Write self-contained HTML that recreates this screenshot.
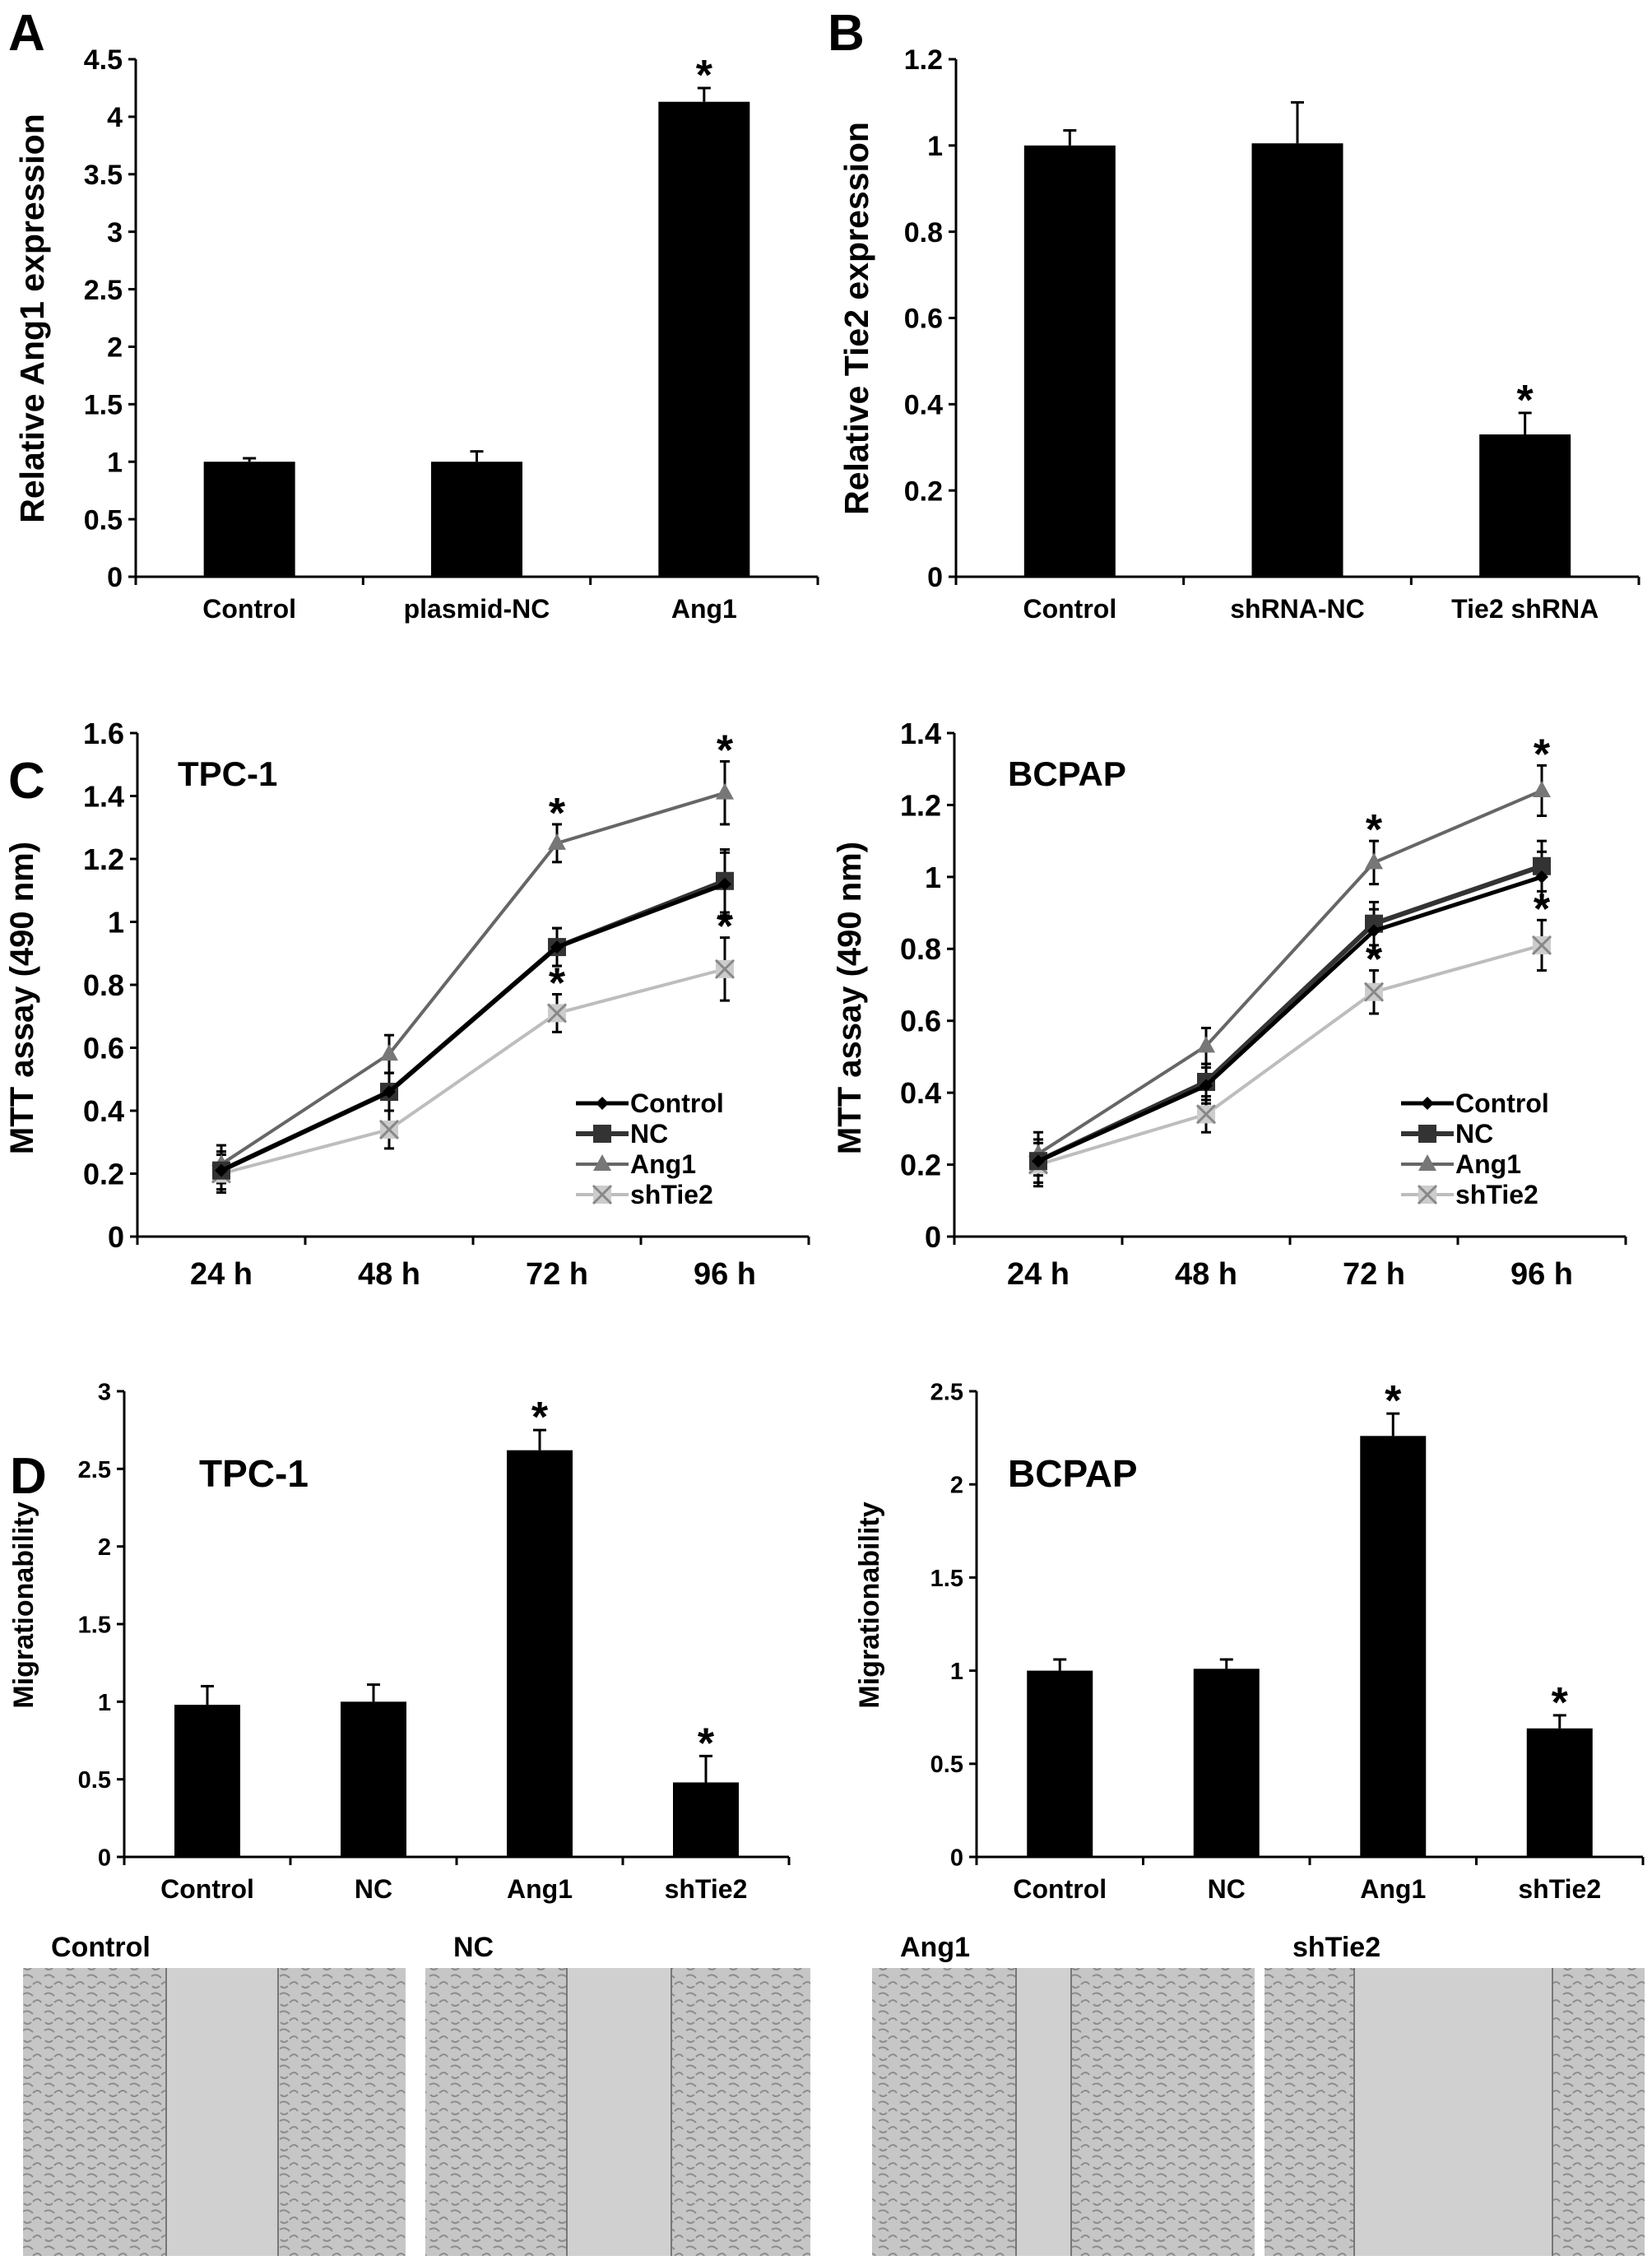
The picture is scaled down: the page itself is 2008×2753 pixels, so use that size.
<!DOCTYPE html>
<html><head><meta charset="utf-8">
<style>
html,body{margin:0;padding:0;background:#fff;}
svg{display:block;}
text{font-family:"Liberation Sans",Arial,sans-serif;font-weight:bold;fill:#000;}
.nar{font-family:"Liberation Sans Narrow","Liberation Sans",sans-serif;}
</style></head>
<body>
<svg id="fig" width="2008" height="2753" viewBox="0 0 2008 2753" xmlns="http://www.w3.org/2000/svg">
<defs>
<pattern id="cells" width="26" height="22" patternUnits="userSpaceOnUse">
<rect width="26" height="22" fill="#c6c6c6"/>
<path d="M2 4 q6 -4 12 2 M14 14 q6 -6 10 0 M3 16 q4 4 9 0" stroke="#8c8c8c" stroke-width="2" fill="none"/>
</pattern>
</defs>
<g id="root"></g>
</svg>
<script>
// Panel A
const aCats=["Control","plasmid-NC","Ang1"];
const aVals=[1.0,1.0,4.13];
const aErr=[0.03,0.09,0.12];
const aTicks=[0,0.5,1,1.5,2,2.5,3,3.5,4,4.5];
// Panel B
const bCats=["Control","shRNA-NC","Tie2 shRNA"];
const bVals=[1.0,1.005,0.33];
const bErr=[0.035,0.095,0.05];
const bTicks=[0,0.2,0.4,0.6,0.8,1,1.2];
// Panel C
const cTimes=["24 h","48 h","72 h","96 h"];
const cSeries=["Control","NC","Ang1","shTie2"];
const cTpcControl=[0.21,0.46,0.92,1.12];
const cTpcNC=[0.21,0.46,0.92,1.13];
const cTpcAng1=[0.23,0.58,1.25,1.41];
const cTpcShTie2=[0.20,0.34,0.71,0.85];
const cTpcErr=[0.06,0.06,0.06,0.10];
const cBcControl=[0.21,0.42,0.85,1.0];
const cBcNC=[0.21,0.43,0.87,1.03];
const cBcAng1=[0.23,0.53,1.04,1.24];
const cBcShTie2=[0.20,0.34,0.68,0.81];
const cBcErr=[0.06,0.05,0.06,0.07];
const cTpcTicks=[0,0.2,0.4,0.6,0.8,1,1.2,1.4,1.6];
const cBcTicks=[0,0.2,0.4,0.6,0.8,1,1.2,1.4];
// Panel D
const dCats=["Control","NC","Ang1","shTie2"];
const dTpcVals=[0.98,1.0,2.62,0.48];
const dTpcErr=[0.12,0.11,0.13,0.17];
const dBcVals=[1.0,1.01,2.26,0.69];
const dBcErr=[0.06,0.05,0.12,0.07];
const dTpcTicks=[0,0.5,1,1.5,2,2.5,3];
const dBcTicks=[0,0.5,1,1.5,2,2.5];

const NS="http://www.w3.org/2000/svg";
const root=document.getElementById('root');
function el(tag,attrs,parent,txt){const e=document.createElementNS(NS,tag);for(const k in attrs)e.setAttribute(k,attrs[k]);if(txt!==undefined)e.textContent=txt;(parent||root).appendChild(e);return e;}

function axes(g,o,ticks,cats,nm){
  const max=ticks[ticks.length-1];
  const y=v=>o.y0-(v/max)*(o.y0-o.yTop);
  const ax=el('line',{x1:o.x0,y1:o.yTop,x2:o.x0,y2:o.y0,stroke:'#000','stroke-width':3},g);
  
  
  const xa=el('line',{x1:o.x0,y1:o.y0,x2:o.x1,y2:o.y0,stroke:'#000','stroke-width':3},g);
  
  
  const tfs=o.tfs||34;
  ticks.forEach(t=>{
    el('line',{x1:o.x0-9,y1:y(t),x2:o.x0,y2:y(t),stroke:'#000','stroke-width':3},g);
    const tl=el('text',{x:o.x0-16,y:y(t)+tfs*0.36,'text-anchor':'end','font-size':tfs,class:'nar'},g,String(t));
    
    
  });
  const cw=(o.x1-o.x0)/cats.length;
  for(let i=0;i<=cats.length;i++){el('line',{x1:o.x0+i*cw,y1:o.y0,x2:o.x0+i*cw,y2:o.y0+10,stroke:'#000','stroke-width':3},g);}
  cats.forEach((c,i)=>{
    const cl=el('text',{x:o.x0+(i+.5)*cw,y:o.y0+o.lblDy,'text-anchor':'middle','font-size':o.cfs||32,class:'nar'},g,c);
    
    
  });
  return {y,cw};
}

function barChart(o,cats,vals,errs,ticks,stars,nm){
  const g=el('g',{},root);
  
  
  const {y,cw}=axes(g,o,ticks,cats,nm);
  vals.forEach((v,i)=>{
    const cx=o.x0+(i+.5)*cw;
    const b=el('rect',{x:cx-o.bw/2,y:y(v),width:o.bw,height:o.y0-y(v),fill:'#000'},g);
    
    
    const top=y(v+errs[i]);
    el('line',{x1:cx,y1:y(v),x2:cx,y2:top,stroke:'#000','stroke-width':3},g);
    el('line',{x1:cx-8,y1:top,x2:cx+8,y2:top,stroke:'#000','stroke-width':3},g);
    if(stars[i]){const s=el('text',{x:cx,y:top+2,'text-anchor':'middle','font-size':52},g,'*');
      
      }
  });
  const t=el('text',{transform:`translate(${o.tx},${o.ty}) rotate(-90)`,'text-anchor':'middle','font-size':o.tfz||40},g,o.title);
  
  
  return g;
}

const sStyle={Control:{c:'#000',w:5},NC:{c:'#333',w:6},Ang1:{c:'#666',w:4},shTie2:{c:'#bdbdbd',w:4}};
function marker(g,s,x,y){
  if(s==='Control') el('path',{d:`M${x} ${y-8}L${x+8} ${y}L${x} ${y+8}L${x-8} ${y}Z`,fill:'#000'},g);
  else if(s==='NC') el('rect',{x:x-11,y:y-11,width:22,height:22,fill:'#333'},g);
  else if(s==='Ang1') el('path',{d:`M${x} ${y-12}L${x+11} ${y+8}L${x-11} ${y+8}Z`,fill:'#777'},g);
  else {el('rect',{x:x-11,y:y-11,width:22,height:22,fill:'#ccc'},g);el('path',{d:`M${x-11} ${y-11}L${x+11} ${y+11}M${x+11} ${y-11}L${x-11} ${y+11}`,stroke:'#888','stroke-width':3},g);}
}
function lineChart(o,series,data,err,ticks,label,stars,nm){
  const g=el('g',{},root);
  
  
  const {y,cw}=axes(g,o,ticks,cTimes,nm);
  const X=i=>o.x0+(i+.5)*cw;
  data.forEach(arr=>arr.forEach((v,i)=>{
    el('line',{x1:X(i),y1:y(v-err[i]),x2:X(i),y2:y(v+err[i]),stroke:'#000','stroke-width':3},g);
    el('line',{x1:X(i)-6,y1:y(v+err[i]),x2:X(i)+6,y2:y(v+err[i]),stroke:'#000','stroke-width':3},g);
    el('line',{x1:X(i)-6,y1:y(v-err[i]),x2:X(i)+6,y2:y(v-err[i]),stroke:'#000','stroke-width':3},g);
  }));
  [3,2,1,0].forEach(k=>{
    const s=series[k],st=sStyle[s],arr=data[k];
    const p=el('polyline',{points:arr.map((v,i)=>X(i)+','+y(v)).join(' '),fill:'none',stroke:st.c,'stroke-width':st.w},g);
    
    
    arr.forEach((v,i)=>marker(g,s,X(i),y(v)));
  });
  stars.forEach(([k,i])=>{
    const v=data[k][i];
    const s=el('text',{x:X(i),y:y(v+err[i])+4,'text-anchor':'middle','font-size':52},g,'*');
    
    
  });
  series.forEach((s,k)=>{
    const ly=o.legY+k*37, st=sStyle[s];
    const lg=el('g',{},g);
    
    
    el('line',{x1:o.legX,y1:ly,x2:o.legX+64,y2:ly,stroke:st.c,'stroke-width':st.w},lg);
    marker(lg,s,o.legX+32,ly);
    el('text',{x:o.legX+66,y:ly+11,'font-size':32,class:'nar'},lg,s);
  });
  const t=el('text',{x:o.labX,y:o.labY,'font-size':42},g,label);
  
  
  const tt=el('text',{transform:`translate(${o.tx},${o.ty}) rotate(-90)`,'text-anchor':'middle','font-size':40},g,'MTT assay (490 nm)');
  
  
}

barChart({x0:165,x1:994,yTop:72,y0:701,bw:111,lblDy:50,tx:53,ty:387,title:'Relative  Ang1 expression',tfz:41},aCats,aVals,aErr,aTicks,[0,0,1],'panel-a-chart');
barChart({x0:1162,x1:1992,yTop:72,y0:701,bw:111,lblDy:50,tx:1055,ty:387,title:'Relative Tie2 expression',tfz:41},bCats,bVals,bErr,bTicks,[0,0,1],'panel-b-chart');
lineChart({x0:167,x1:983,yTop:891,y0:1503,lblDy:58,legX:700,legY:1341,tx:40,ty:1213,cfs:38,tfs:36,labX:216,labY:955},cSeries,[cTpcControl,cTpcNC,cTpcAng1,cTpcShTie2],cTpcErr,cTpcTicks,'TPC-1',[[2,2],[2,3],[3,2],[3,3]],'panel-c-tpc1-chart');
lineChart({x0:1160,x1:1976,yTop:891,y0:1503,lblDy:58,legX:1703,legY:1341,tx:1046,ty:1213,cfs:38,tfs:36,labX:1225,labY:955},cSeries,[cBcControl,cBcNC,cBcAng1,cBcShTie2],cBcErr,cBcTicks,'BCPAP',[[2,2],[2,3],[3,2],[3,3]],'panel-c-bcpap-chart');
barChart({x0:151,x1:959,yTop:1691,y0:2257,bw:80,lblDy:50,tx:40,ty:1951,title:'Migrationability',tfz:34,tfs:29,cfs:32},dCats,dTpcVals,dTpcErr,dTpcTicks,[0,0,1,1],'panel-d-tpc1-chart');
barChart({x0:1187,x1:1997,yTop:1691,y0:2257,bw:80,lblDy:50,tx:1068,ty:1951,title:'Migrationability',tfz:34,tfs:29,cfs:32},dCats,dBcVals,dBcErr,dBcTicks,[0,0,1,1],'panel-d-bcpap-chart');
[[242,1807,'TPC-1'],[1225,1807,'BCPAP']].forEach(([x,y,t])=>{const e=el('text',{x:x,y:y,'font-size':46},root,t);
  
  });
[[10,61,'A'],[1006,61,'B'],[10,970,'C'],[12,1815,'D']].forEach(([x,y,t])=>{const e=el('text',{x:x,y:y,'font-size':62},root,t);
  
  });
const imgs=[[28,493,'Control',[202,338]],[517,985,'NC',[689,816]],[1060,1525,'Ang1',[1235,1302]],[1537,1999,'shTie2',[1646,1887]]];
imgs.forEach(([x0,x1,lab,gap])=>{
  const g=el('g',{},root);
  
  
  el('rect',{x:x0,y:2392,width:x1-x0,height:350,fill:'url(#cells)'},g);
  el('rect',{x:gap[0],y:2392,width:gap[1]-gap[0],height:350,fill:'#d0d0d0'},g);
  el('line',{x1:gap[0],y1:2392,x2:gap[0],y2:2742,stroke:'#777','stroke-width':2},g);
  el('line',{x1:gap[1],y1:2392,x2:gap[1],y2:2742,stroke:'#777','stroke-width':2},g);
  const t=el('text',{x:x0+34,y:2378,'font-size':34,class:'nar'},root,lab);
  
  
});
</script>
</body></html>
